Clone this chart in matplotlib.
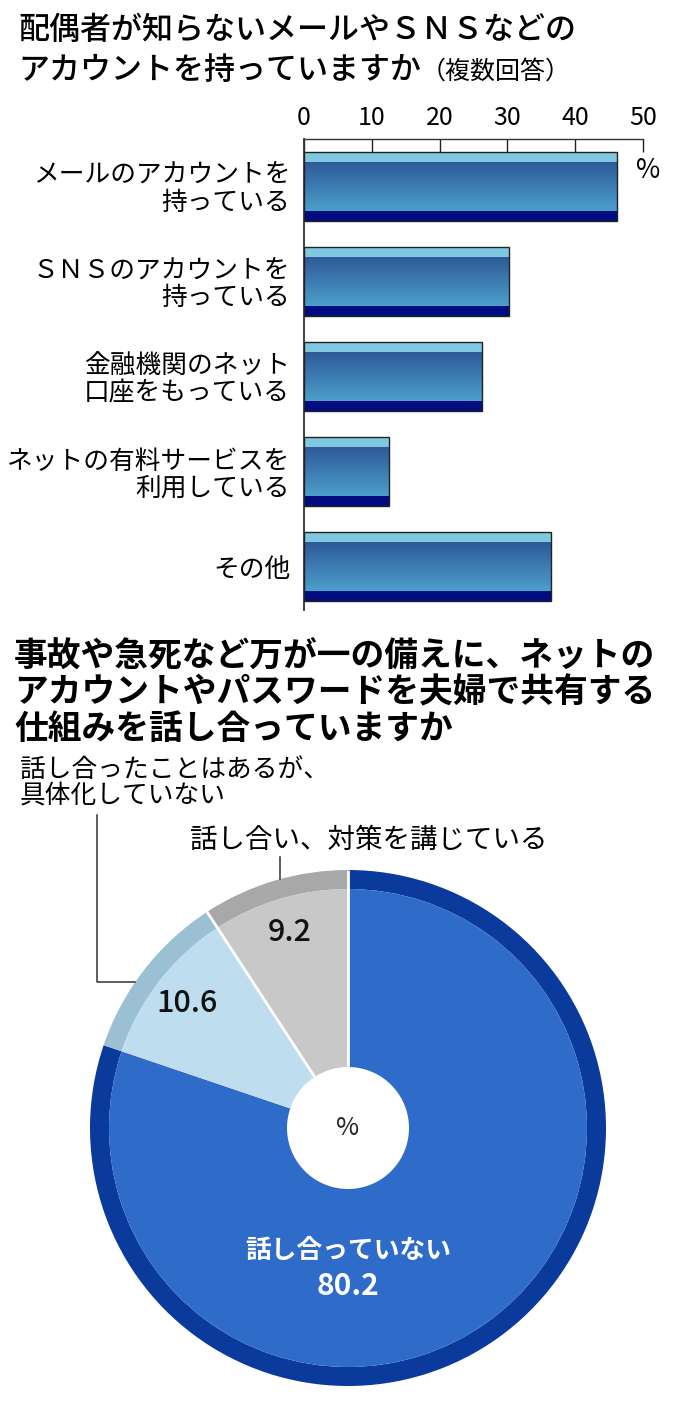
import numpy as np
import matplotlib
matplotlib.use("Agg")
import matplotlib.pyplot as plt
from matplotlib.colors import to_rgb

plt.rcParams['font.family'] = ['Noto Sans CJK JP', 'DejaVu Sans']

W, H = 680, 1409

# --- data ---
title1 = ["配偶者が知らないメールやＳＮＳなどの", "アカウントを持っていますか"]
title1_note = "（複数回答）"
categories = ["メールのアカウントを\n持っている",
              "ＳＮＳのアカウントを\n持っている",
              "金融機関のネット\n口座をもっている",
              "ネットの有料サービスを\n利用している",
              "その他"]
shares = [46.2, 30.2, 26.2, 12.5, 36.5]
xticks = [0, 10, 20, 30, 40, 50]

title2 = ["事故や急死など万が一の備えに、ネットの",
          "アカウントやパスワードを夫婦で共有する",
          "仕組みを話し合っていますか"]
pie_labels = ["話し合っていない", "話し合ったことはあるが、\n具体化していない", "話し合い、対策を講じている"]
pie_values = [80.2, 10.6, 9.2]

# colours
bar_light = "#7FC8E0"
bar_dark = "#000C80"
grad_top = "#2D5A98"
grad_bot = "#4C9FCB"
pie_colors = ["#2F6BC8", "#BEDEF0", "#C8C8C8"]
ring_colors = ["#0A3A9C", "#9CC0D3", "#A8A8A8"]


def fx(px):
    return px / W


def fy(py):
    return 1 - py / H


fig = plt.figure(figsize=(W / 100, H / 100), dpi=100, facecolor='white')

# titles
fig.text(fx(18), fy(30), title1[0], fontsize=22.3, weight='medium', va='center', ha='left')
fig.text(fx(18), fy(70), title1[1], fontsize=22.3, weight='medium', va='center', ha='left')
fig.text(fx(421), fy(72), title1_note, fontsize=18, va='center', ha='left')

for i, line in enumerate(title2):
    fig.text(fx(14), fy(655 + 37 * i), line, fontsize=24.3, weight='bold', va='center', ha='left')

# --- bar chart ---
ax = fig.add_axes([fx(304), fy(610), fx(643) - fx(304), fy(139) - fy(610)])
n = len(categories)
pos = np.arange(n)[::-1].astype(float)
h = 0.726
light_h = 0.116
dark_h = 0.105

grad = np.linspace(0, 1, 64)[:, None]
c0 = np.array(to_rgb(grad_top))
c1 = np.array(to_rgb(grad_bot))
grad_img = (c0 * (1 - grad) + c1 * grad).reshape(64, 1, 3)

ax.barh(pos, shares, height=h, color=bar_dark, zorder=2)
ax.barh(pos + h / 2 - light_h / 2, shares, height=light_h, color=bar_light, zorder=3)
for p, v in zip(pos, shares):
    ax.imshow(grad_img, extent=(0, v, p - h / 2 + dark_h, p + h / 2 - light_h),
              origin='upper', aspect='auto', zorder=3, interpolation='bilinear')
ax.barh(pos, shares, height=h, fill=False, edgecolor='#222222', linewidth=1.0, zorder=4)

ax.set_xlim(0, 50)
ax.set_ylim(-0.453, 4.495)
ax.set_aspect('auto')
ax.xaxis.tick_top()
ax.set_xticks(xticks)
ax.set_xticklabels([str(x) for x in xticks], fontsize=18)
ax.tick_params(axis='x', direction='in', length=9.5, width=1.0, pad=6, color='#222222')
ax.set_yticks(pos)
ax.set_yticklabels(categories, fontsize=18.5, linespacing=1.05)
ax.tick_params(axis='y', length=0, pad=10)
for s in ['right', 'bottom']:
    ax.spines[s].set_visible(False)
ax.spines['left'].set_linewidth(1.3)
ax.spines['left'].set_color('#333333')
ax.spines['top'].set_linewidth(1.0)
ax.spines['top'].set_color('#333333')
ax.set_facecolor('none')

fig.text(fx(636), fy(170), "%", fontsize=19, va='center', ha='left')

# --- donut chart ---
cx, cy, r = 348, 1128, 258
pax = fig.add_axes([fx(cx - r), fy(cy + r), 2 * r / W, 2 * r / H])
pax.axis('off')

ring_w = 19 / r
hole_r = 61 / r
pax.pie(pie_values, radius=1.0, colors=ring_colors, startangle=90, counterclock=False,
        wedgeprops=dict(width=ring_w, edgecolor='none', linewidth=0))
wedges, _ = pax.pie(pie_values, radius=1.0 - ring_w, colors=pie_colors, startangle=90,
                    counterclock=False,
                    wedgeprops=dict(width=1.0 - ring_w - hole_r, edgecolor='none', linewidth=0))
pax.set_xlim(-1, 1)
pax.set_ylim(-1, 1)

# white separators between slices (not at 12 o'clock)
for wdg in wedges[1:]:
    b = np.deg2rad(wdg.theta1)
    pax.plot([hole_r * np.cos(b), np.cos(b)], [hole_r * np.sin(b), np.sin(b)],
             color='white', lw=2, solid_capstyle='butt')

# value labels on small slices
for wdg, v in list(zip(wedges, pie_values))[1:]:
    ang = np.deg2rad((wdg.theta1 + wdg.theta2) / 2)
    pax.text(0.79 * np.cos(ang), 0.79 * np.sin(ang), f"{v:.1f}", fontsize=22,
             weight='medium', ha='center', va='center', color='#111111')

pax.text(0, -0.475, pie_labels[0], fontsize=18.5, weight='bold', color='white',
         ha='center', va='center')
pax.text(0, -0.612, f"{pie_values[0]:.1f}", fontsize=21.5, weight='bold', color='white',
         ha='center', va='center')
pax.text(0, 0, "%", fontsize=18, ha='center', va='center', color='#222222')

# outside labels + leader lines
fig.text(fx(20), fy(783), pie_labels[1], fontsize=18.5, va='center', ha='left', linespacing=1.0)
fig.text(fx(190), fy(840), pie_labels[2], fontsize=19.8, va='center', ha='left')

a1 = np.deg2rad(145.5)
lx = (97 - cx) / r
pax.plot([lx, lx, np.cos(a1)], [(cy - 815) / r, np.sin(a1), np.sin(a1)],
         color='#333333', lw=1.1, clip_on=False)
a2x = (280 - cx) / r
pax.plot([a2x, a2x], [(cy - 857) / r, np.sqrt(1 - a2x ** 2)],
         color='#333333', lw=1.1, clip_on=False)

fig.savefig("out.png", dpi=100, facecolor='white')
